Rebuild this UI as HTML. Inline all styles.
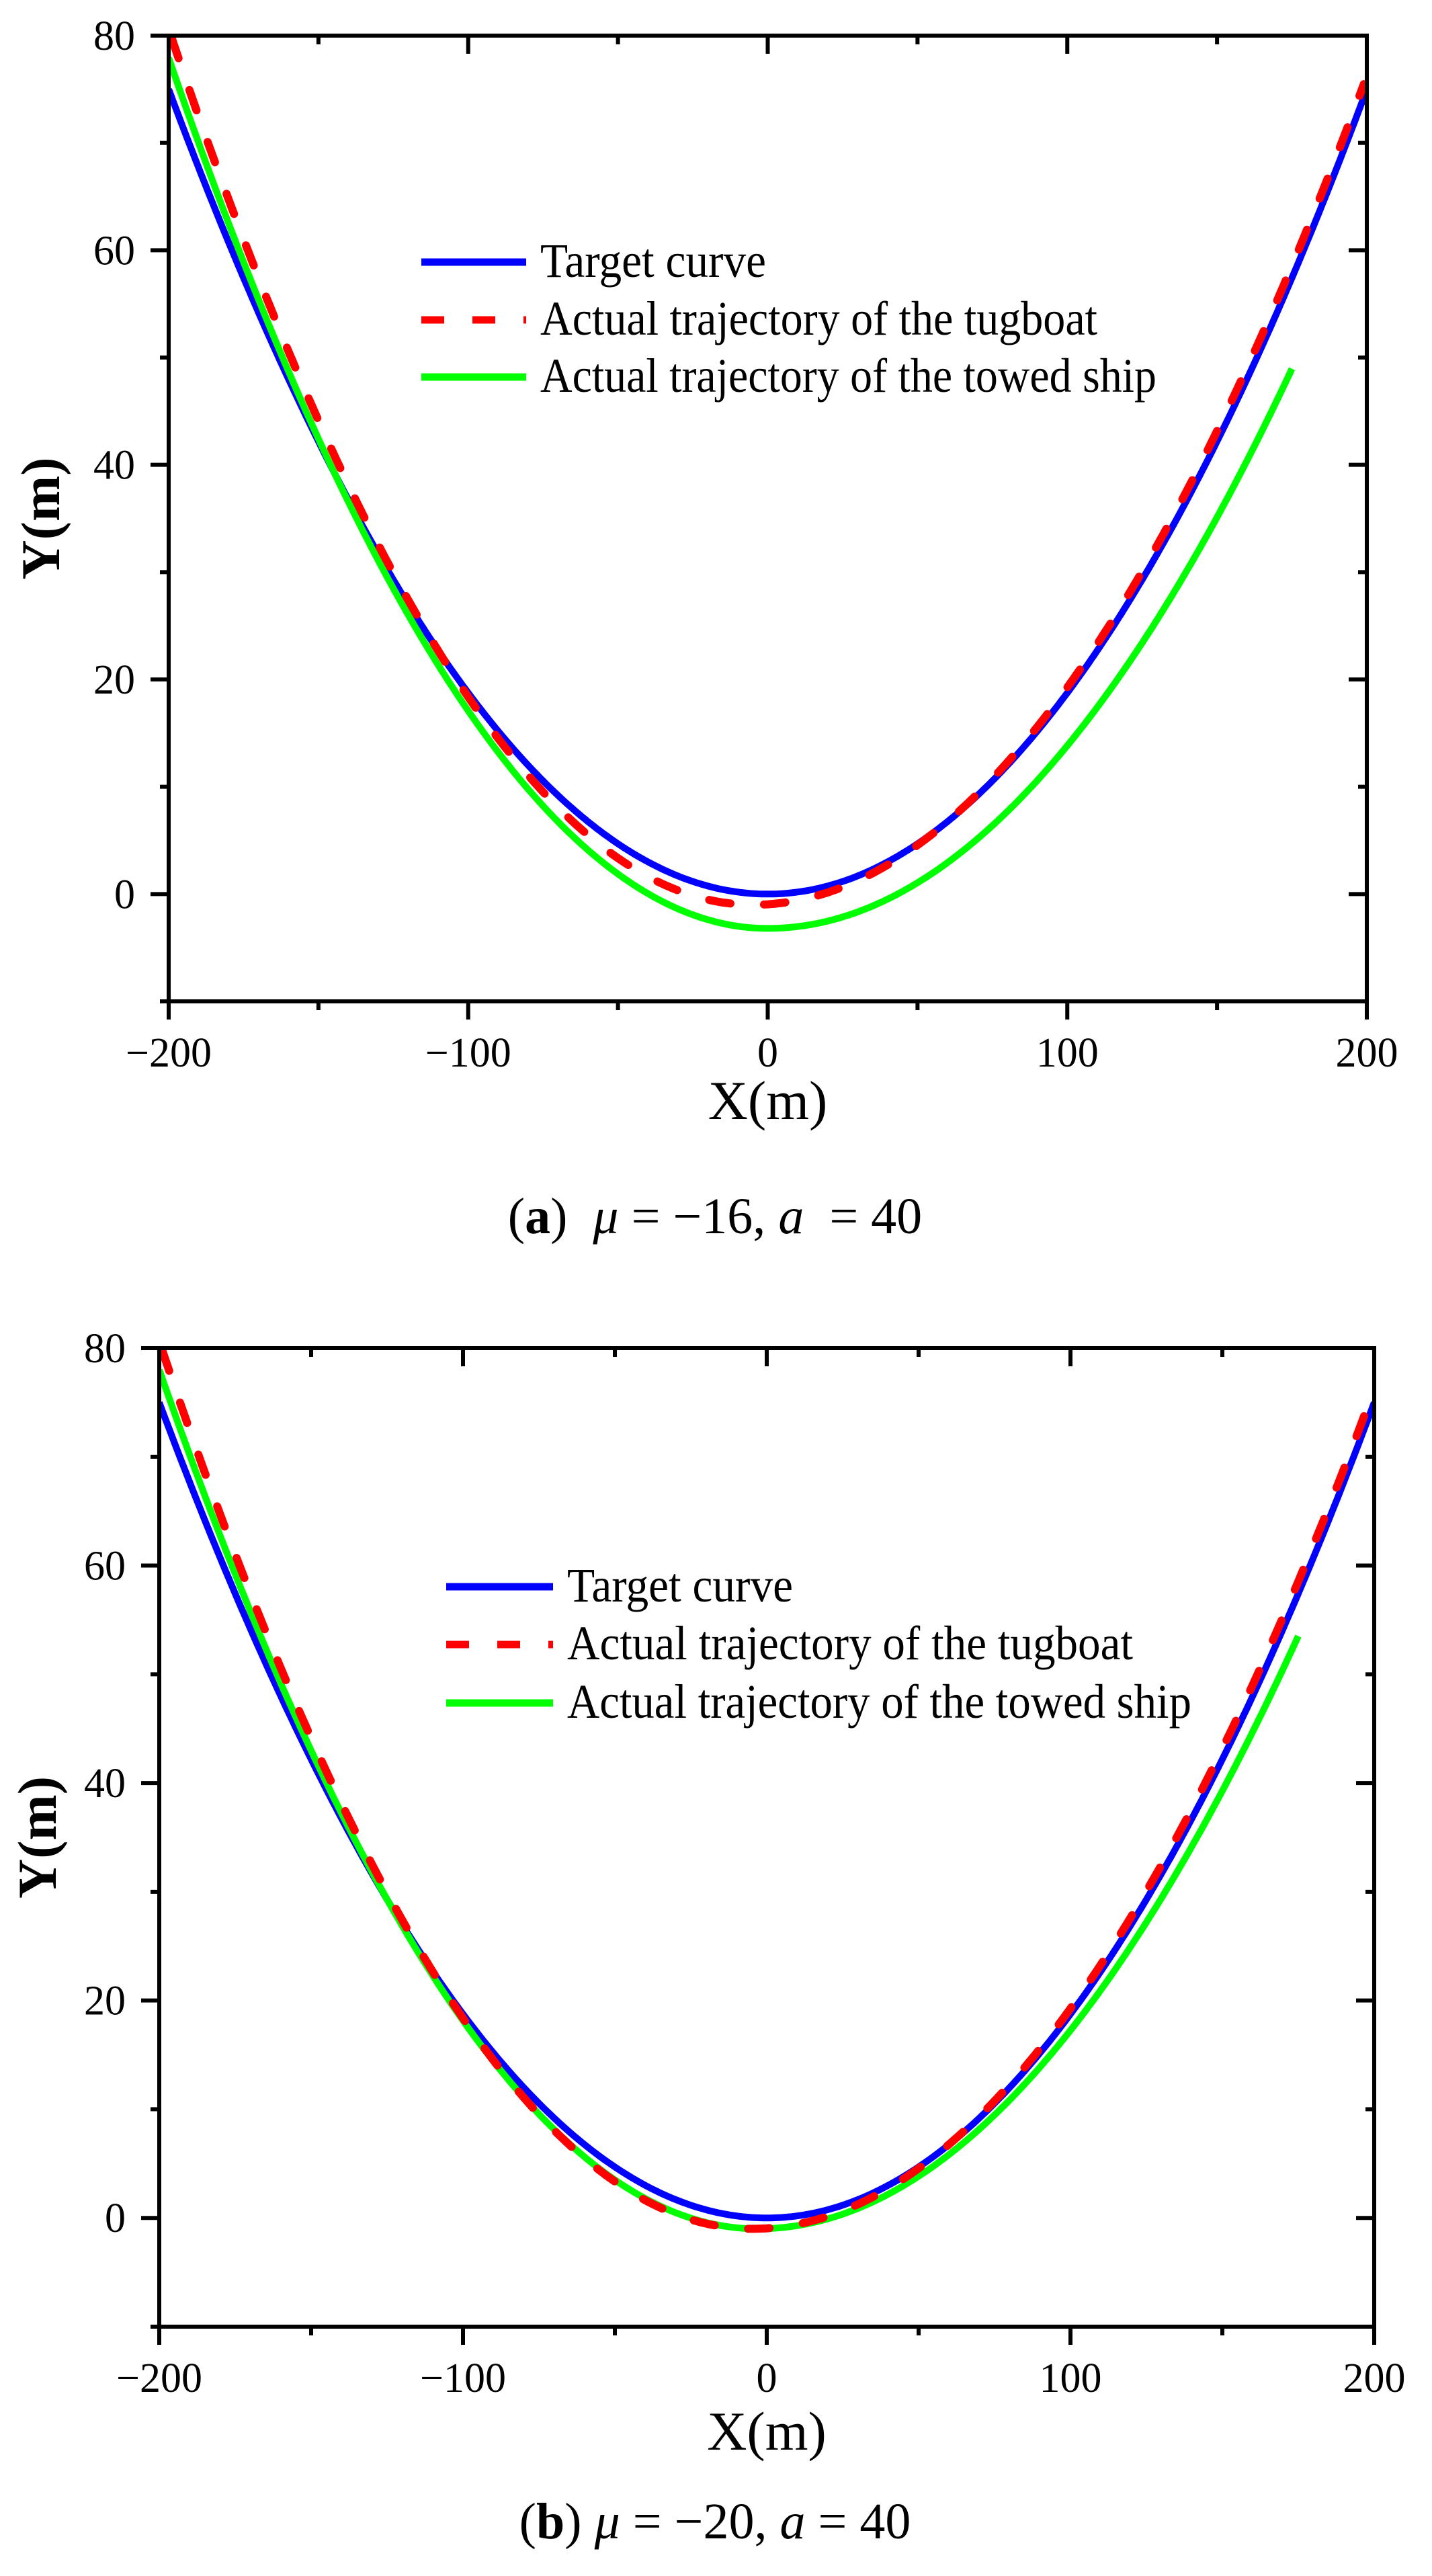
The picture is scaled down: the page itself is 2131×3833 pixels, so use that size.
<!DOCTYPE html>
<html><head><meta charset="utf-8"><style>
html,body{margin:0;padding:0;background:#fff}
svg{display:block}
text{font-family:"Liberation Serif",serif;fill:#000;white-space:pre}
</style></head><body>
<svg id="s" width="2131" height="3833" viewBox="0 0 2131 3833" xmlns="http://www.w3.org/2000/svg"></svg>
<script>
const S=document.getElementById('s');let h='';
function pb(x0,ymin,fl,fr){return x=>{const d=x-x0;const g=d<0?d*fl:d*fr;return 0.001875*g*g+ymin;};}
function plot(L,R,T,B,legX,legTX,rows,lens,tug,tow,xlabY,ylabX){
  const X=v=>L+(v+200)/400*(R-L), Y=v=>B-(v+10)/90*(B-T);
  h+=`<clipPath id="c${T}"><rect x="${L}" y="${T}" width="${R-L}" height="${B-T}"/></clipPath>`;
  function path(f,x0,x1){let p='';for(let x=x0;x<=x1+1e-9;x+=1){p+=(p?'L':'M')+X(x).toFixed(1)+','+Y(f(x)).toFixed(1);}return p;}
  const tgt=x=>0.001875*x*x;
  h+=`<g clip-path="url(#c${T})">`;
  h+=`<path d="${path(tgt,-200,200)}" fill="none" stroke="#0000ff" stroke-width="10"/>`;
  h+=`<path d="${path(tow.f,-200,tow.end)}" fill="none" stroke="#00ff00" stroke-width="10"/>`;
  h+=`<path d="${path(tug,-199,199)}" fill="none" stroke="#ff0000" stroke-width="12" stroke-dasharray="32 50" stroke-linecap="round"/>`;
  h+='</g>';
  h+=`<rect x="${L}" y="${T}" width="${R-L}" height="${B-T}" fill="none" stroke="#000" stroke-width="6"/>`;
  for(let v=-200;v<=200;v+=50){const maj=v%100==0,l=maj?27:13,x=X(v);
    h+=`<line x1="${x}" y1="${B}" x2="${x}" y2="${B+l}" stroke="#000" stroke-width="6"/>`;
    h+=`<line x1="${x}" y1="${T}" x2="${x}" y2="${T+l}" stroke="#000" stroke-width="6"/>`;
    if(maj)h+=`<text x="${x}" y="${B+97}" font-size="62" text-anchor="middle">${v<0?'\u2212'+(-v):v}</text>`;}
  for(let v=-10;v<=80;v+=10){const maj=v%20==0,l=maj?27:13,y=Y(v);
    h+=`<line x1="${L-l}" y1="${y}" x2="${L}" y2="${y}" stroke="#000" stroke-width="6"/>`;
    h+=`<line x1="${R-l}" y1="${y}" x2="${R}" y2="${y}" stroke="#000" stroke-width="6"/>`;
    if(maj)h+=`<text x="${L-50}" y="${y+21}" font-size="62" text-anchor="end">${v}</text>`;}
  h+=`<text x="${(L+R)/2}" y="${xlabY}" font-size="82" text-anchor="middle">X(m)</text>`;
  const yc=(T+B)/2;
  h+=`<text transform="translate(${ylabX+28},${yc}) rotate(-90)" font-size="82" font-weight="bold" text-anchor="middle">Y(m)</text>`;
  const labs=['Target curve','Actual trajectory of the tugboat','Actual trajectory of the towed ship'];
  const cols=['#0000ff','#ff0000','#00ff00'];
  labs.forEach((t,i)=>{const y=rows[i];
    h+=`<line x1="${legX[0]}" y1="${y}" x2="${legX[1]}" y2="${y}" stroke="${cols[i]}" stroke-width="11" ${i==1?'stroke-dasharray="34 42"':''}/>`;
    h+=`<text x="${legTX}" y="${y+22}" font-size="72" textLength="${lens[i]}" lengthAdjust="spacingAndGlyphs">${t}</text>`;});
}
plot(251,2034,53,1490,[627,783],804,[390,476,561],[336,829,917],
  pb(-5,-1,1.07,0.99),{f:pb(0,-3.2,1.04,0.953),end:175},1665,60);
plot(237,2045,2006,3462,[664,823],844,[2361,2447,2534],[336,842,929],
  pb(-5,-1,1.07,0.99),{f:pb(-3,-1,1.042,0.958),end:175},3645,55);
h+=`<text x="1064" y="1835" font-size="76" text-anchor="middle">(<tspan font-weight="bold">a</tspan>)  <tspan font-style="italic">μ</tspan> = −16, <tspan font-style="italic">a</tspan>  = 40</text>`;
h+=`<text x="1064" y="3777" font-size="76" text-anchor="middle">(<tspan font-weight="bold">b</tspan>) <tspan font-style="italic">μ</tspan> = −20, <tspan font-style="italic">a</tspan> = 40</text>`;
S.innerHTML=h;
</script>
</body></html>
